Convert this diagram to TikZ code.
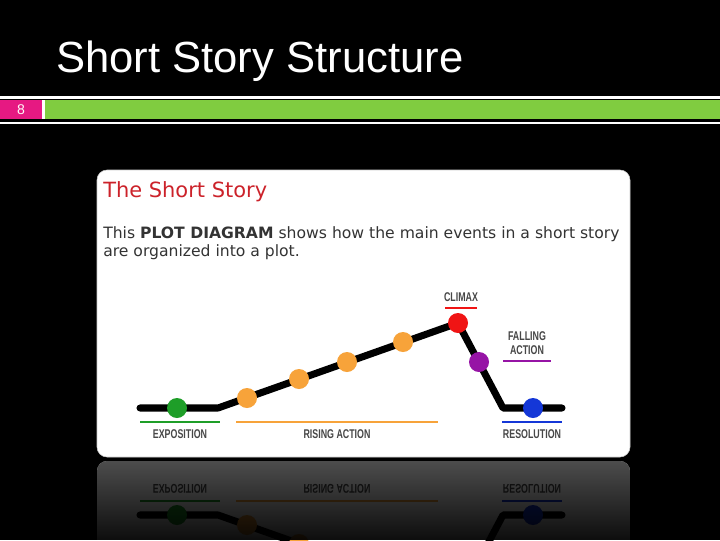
\documentclass[tikz,border=0pt]{standalone}
\usepackage{fontspec}
\setmainfont{DejaVu Sans}
\newfontfamily\slidefont{Liberation Sans}
\newfontfamily\labelfont[FakeStretch=0.7]{Liberation Sans Bold}
\usetikzlibrary{calc}
\usetikzlibrary{fadings}

\definecolor{slidepink}{RGB}{230,25,130}
\definecolor{slidegreen}{RGB}{128,204,64}
\definecolor{storyred}{RGB}{204,34,42}
\definecolor{textgray}{RGB}{51,51,51}
\definecolor{expgreen}{RGB}{30,158,40}
\definecolor{riseorange}{RGB}{247,163,58}
\definecolor{climaxred}{RGB}{240,20,20}
\definecolor{fallpurple}{RGB}{150,20,165}
\definecolor{resblue}{RGB}{20,55,215}

\tikzfading[name=reflfade, top color=transparent!30, bottom color=transparent!5]

\tikzset{
	storydot/.style={circle, fill=#1, minimum size=0.5cm, inner sep=0pt},
	steplabel/.style={font=\labelfont\fontsize{9}{10}\selectfont, text=textgray!90!white, inner sep=0pt, align=center},
	stepline/.style={line width=2pt, color=#1}
}

% The plot line with its dots and lower labels (drawn twice: card and reflection)
\newcommand{\plotdiagram}{
	\coordinate (p0) at (140,408);
	\coordinate (p1) at (218,408);
	\coordinate (p2) at (503,408);
	\coordinate (p3) at (562,408);
	\coordinate (c) at (458,323);

	\draw[line width=5pt, line cap=round, line join=round] (p0) -- (p1) -- (c) -- (p2) -- (p3);

	\node[storydot=expgreen] (expo) at (177,408) {};
	\node[storydot=riseorange] (rise1) at (247,398) {};
	\node[storydot=riseorange] (rise2) at (299,379) {};
	\node[storydot=riseorange] (rise3) at (347,362) {};
	\node[storydot=riseorange] (rise4) at (403,342) {};
	\node[storydot=climaxred] (climax) at (c) {};
	\node[storydot=fallpurple] (fall) at (479,362) {};
	\node[storydot=resblue] (resol) at (533,408) {};

	\draw[stepline=expgreen] (140,422) -- (220,422) node [steplabel, midway, below=0.15cm] (expotag) {EXPOSITION};
	\draw[stepline=riseorange] (236,422) -- (438,422) node [steplabel, midway, below=0.15cm] (risetag) {RISING ACTION};
	\draw[stepline=resblue] (502,422) -- (562,422) node [steplabel, midway, below=0.15cm] (resoltag) {RESOLUTION};
}

\begin{document}
\begin{tikzpicture}[x=0.025cm, y=-0.025cm]
	% Slide background
	\useasboundingbox (0,0) rectangle (720,540);
	\fill[black] (0,0) rectangle (720,540);

	\node[anchor=base west, inner sep=0pt, text=white, font=\slidefont\fontsize{31}{36}\selectfont] (title) at (56,72) {Short Story Structure};

	% Band under the title
	\fill[white] (0,96) rectangle (720,98.5);
	\fill[white] (0,121.5) rectangle (720,124);
	\fill[white] (42,100) rectangle (45,119);
	\fill[slidepink] (0,100) rectangle (42,119);
	\fill[slidegreen] (45,100) rectangle (720,119);
	\node[text=white!90!pink, font=\slidefont\fontsize{10}{12}\selectfont, inner sep=0pt] (pagenum) at (21,110) {8};

	% The card
	\draw[gray!40, fill=white, rounded corners=0.25cm] (97,170) rectangle (630,457);
	\node[anchor=base west, inner sep=0pt, text=storyred, font=\fontsize{14.9}{18}\selectfont] (cardtitle) at (103,197) {The Short Story};
	\node[anchor=base west, inner sep=0pt, text=textgray, font=\fontsize{11.1}{13}\selectfont] (intro1) at (103,238) {This \textbf{PLOT DIAGRAM} shows how the main events in a short story};
	\node[anchor=base west, inner sep=0pt, text=textgray, font=\fontsize{11.1}{13}\selectfont] (intro2) at (103,256) {are organized into a plot.};

	\plotdiagram
	\draw[stepline=climaxred] (445,308) -- (477,308) node [steplabel, midway, above=0.13cm] (climaxtag) {CLIMAX};
	\draw[stepline=fallpurple] (503,361) -- (551,361) node [steplabel, midway, above=0.13cm] (falltag) {FALLING\\ACTION};

	% Reflection of the card
	\begin{scope}
		\clip[rounded corners=0.25cm] (97,461) rectangle (630,580);
		\fill[white] (97,461) rectangle (630,580);
		\begin{scope}[shift={(0,923)}, yscale=-1, transform shape]
			\plotdiagram
		\end{scope}
		\fill[black, path fading=reflfade] (97,461) rectangle (630,540);
	\end{scope}
\end{tikzpicture}
\end{document}
